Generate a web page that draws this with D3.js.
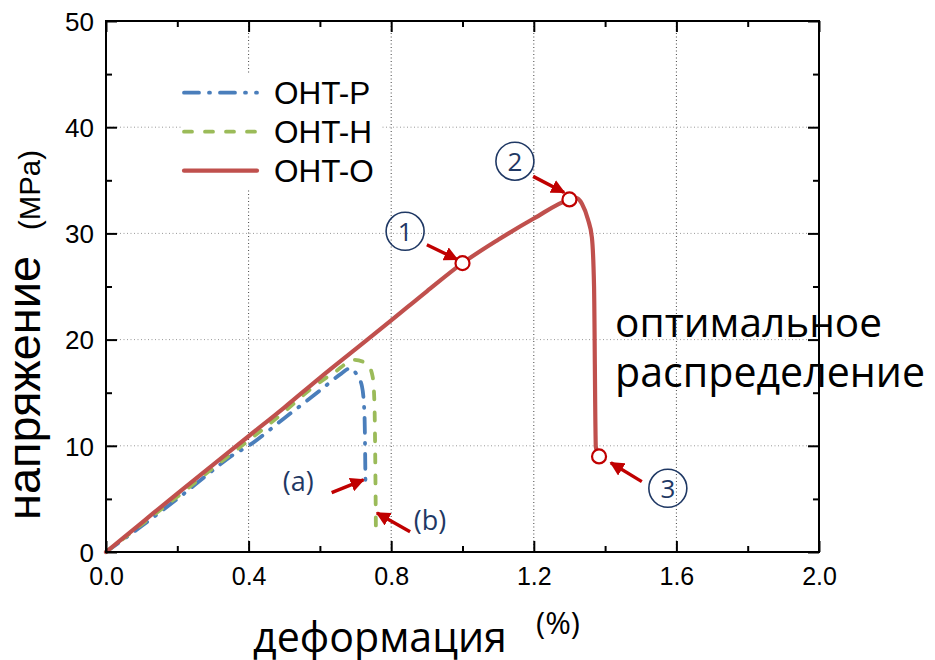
<!DOCTYPE html>
<html><head><meta charset="utf-8">
<script src="https://cdn.jsdelivr.net/npm/d3@7"></script>
<style>body{margin:0;background:#fff}svg{display:block}</style>
</head><body>
<svg id="c" width="935" height="660"></svg>
<script>
// ---------- data ----------
const xTicks = [0, 0.4, 0.8, 1.2, 1.6, 2.0];
const xMinor = [0.2, 0.6, 1.0, 1.4, 1.8];
const yTicks = [0, 10, 20, 30, 40, 50];
const yMinor = [5, 15, 25, 35, 45];
const seriesNames = ["OHT-P", "OHT-H", "OHT-O"];

const strainP = [0, 0.1, 0.2, 0.3, 0.35, 0.4, 0.5, 0.6, 0.66, 0.685, 0.705, 0.718, 0.725, 0.728];
const stressP = [0, 2.45, 5.0, 7.7, 9.0, 10.0, 12.6, 15.2, 16.8, 17.3, 16.6, 15.6, 13.0, 6.0];

const strainH = [0, 0.1, 0.2, 0.3, 0.4, 0.5, 0.58, 0.64, 0.698, 0.735, 0.748, 0.753, 0.757];
const stressH = [0, 2.6, 5.2, 7.9, 10.5, 13.2, 15.5, 16.9, 18.1, 17.6, 16.5, 14.0, 2.5];

const strainO = [0, 0.1, 0.2, 0.3, 0.4, 0.5, 0.6, 0.7, 0.8, 0.9, 1.0, 1.1, 1.2, 1.3, 1.318, 1.335, 1.352, 1.363, 1.369, 1.374, 1.383];
const stressO = [0, 2.75, 5.5, 8.2, 10.9, 13.6, 16.4, 19.1, 21.8, 24.55, 27.2, 29.4, 31.4, 33.2, 33.35, 32.8, 31.3, 29.6, 25.0, 9.9, 9.0];

// marked points on OHT-O
const markStrain = [1.0, 1.3, 1.383];
const markStress = [27.2, 33.2, 9.0];
const markLabels = ["1", "2", "3"];
const markLabelStrain = [0.839, 1.147, 1.576];
const markLabelStress = [30.2, 36.8, 6.0];

// arrows (data coordinates): start -> tip
const arrowX0 = [0.900, 1.198, 1.503, 0.633, 0.853];
const arrowY0 = [28.93, 35.37, 6.63, 5.59, 1.91];
const arrowX1 = [0.985, 1.285, 1.416, 0.722, 0.760];
const arrowY1 = [27.55, 33.86, 8.40, 6.79, 3.68];

const letterLabels = ["(a)", "(b)"];
const letterStrain = [0.539, 0.909];
const letterStress = [6.6, 2.92];

const noteLines = ["оптимальное", "распределение"];
const noteStrain = 1.428;
const noteStress = [20.26, 15.55];

const xTitle = "деформация", xUnit = "(%)";
const yTitle = "напряжение", yUnit = "(MPa)";

// ---------- styling ----------
const colors = ["#4a7ebb", "#9bbb59", "#c0504d"];
const dashes = ["15,10,1,10", "8,13", null];
const navy = "#1f3864", arrowRed = "#c00000";

const svg = d3.select("#c");
const x = d3.scaleLinear().domain([0, 2]).range([106, 819]);
const y = d3.scaleLinear().domain([0, 50]).range([552, 21]);
const [X0, X1] = x.range(), [Y0, Y1] = y.range();

function fit(sel, target) {
  const w = sel.node().getComputedTextLength();
  const fs = parseFloat(sel.attr("font-size"));
  sel.attr("font-size", (fs * target / w).toFixed(2));
  return sel;
}

// grid
const grid = svg.append("g");
grid.selectAll(".gx").data(xTicks.filter(v => v > 0 && v < 2)).join("line")
  .attr("x1", d => x(d)).attr("x2", d => x(d)).attr("y1", Y0).attr("y2", Y1)
  .attr("stroke", "#444").attr("stroke-width", 1).attr("stroke-dasharray", "1,2.5");
grid.selectAll(".gy").data(yTicks.filter(v => v > 0 && v < 50)).join("line")
  .attr("y1", d => y(d)).attr("y2", d => y(d)).attr("x1", X0).attr("x2", X1)
  .attr("stroke", "#999").attr("stroke-width", 1).attr("stroke-dasharray", "1,2.5");

// legend background
svg.append("rect").attr("x", 181).attr("y", 73).attr("width", 200).attr("height", 117).attr("fill", "#fff");

// lines
const series = [
  strainP.map((v, i) => [v, stressP[i]]),
  strainH.map((v, i) => [v, stressH[i]]),
  strainO.map((v, i) => [v, stressO[i]])
];
const line = d3.line().x(d => x(d[0])).y(d => y(d[1])).curve(d3.curveMonotoneX);
series.forEach((s, i) => {
  svg.append("path").attr("d", line(s)).attr("fill", "none")
    .attr("stroke", colors[i]).attr("stroke-width", i === 2 ? 4.2 : 3.8)
    .attr("stroke-linecap", "round").attr("stroke-linejoin", "round")
    .attr("stroke-dasharray", dashes[i]);
});

// axes (ticks inward)
const tickFont = "'Liberation Sans', Arial, sans-serif";
function axisPair(gen, scale, major, minor, transform, labels) {
  const g = svg.append("g").attr("transform", transform);
  g.call(gen(scale).tickValues(major).tickSizeInner(-11).tickSizeOuter(0)
    .tickFormat(labels ? (labels === "x" ? d3.format(".1f") : d3.format("d")) : () => ""));
  const g2 = svg.append("g").attr("transform", transform);
  g2.call(gen(scale).tickValues(minor).tickSizeInner(-6).tickSizeOuter(0).tickFormat(() => ""));
  [g, g2].forEach(a => {
    a.select(".domain").remove();
    a.selectAll(".tick line").attr("stroke", "#000").attr("stroke-width", 2);
  });
  return g;
}
const gb = axisPair(d3.axisBottom, x, xTicks, xMinor, `translate(0,${Y0})`, "x");
gb.selectAll(".tick text").attr("font-family", tickFont).attr("font-size", 25)
  .attr("fill", "#000").attr("y", 0).attr("dy", "1.32em");
const gl = axisPair(d3.axisLeft, y, yTicks, yMinor, `translate(${X0},0)`, "y");
gl.selectAll(".tick text").attr("font-family", tickFont).attr("font-size", 26)
  .attr("fill", "#000").attr("x", -12).attr("dy", "0.36em");
axisPair(d3.axisTop, x, xTicks, xMinor, `translate(0,${Y1})`, null);
axisPair(d3.axisRight, y, yTicks, yMinor, `translate(${X1},0)`, null);

// frame
svg.append("rect").attr("x", X0).attr("y", Y1).attr("width", X1 - X0).attr("height", Y0 - Y1)
  .attr("fill", "none").attr("stroke", "#000").attr("stroke-width", 2);

// arrow heads
svg.append("defs").append("marker").attr("id", "ah").attr("viewBox", "0 0 10 10")
  .attr("refX", 9).attr("refY", 5).attr("markerWidth", 4.2).attr("markerHeight", 4.2)
  .attr("markerUnits", "strokeWidth").attr("orient", "auto")
  .append("path").attr("d", "M0,0 L10,5 L0,10 Z").attr("fill", arrowRed);
arrowX0.forEach((v, i) => {
  svg.append("line").attr("x1", x(v)).attr("y1", y(arrowY0[i]))
    .attr("x2", x(arrowX1[i])).attr("y2", y(arrowY1[i]))
    .attr("stroke", arrowRed).attr("stroke-width", 3.4).attr("marker-end", "url(#ah)");
});

// marker circles
svg.selectAll(".mk").data(markStrain).join("circle")
  .attr("cx", d => x(d)).attr("cy", (d, i) => y(markStress[i])).attr("r", 7)
  .attr("fill", "#fff").attr("stroke", arrowRed).attr("stroke-width", 2.2);

// circled numbers
const calib = "'Open Sans', 'Noto Sans', sans-serif";
markLabels.forEach((t, i) => {
  const cx = x(markLabelStrain[i]), cy = y(markLabelStress[i]);
  svg.append("circle").attr("cx", cx).attr("cy", cy).attr("r", 19)
    .attr("fill", "none").attr("stroke", navy).attr("stroke-width", 1.6);
  svg.append("text").attr("x", cx).attr("y", cy).attr("dy", "0.36em")
    .attr("text-anchor", "middle").attr("font-family", calib).attr("font-size", 26)
    .attr("fill", navy).text(t);
});

// (a) (b)
letterLabels.forEach((t, i) => {
  svg.append("text").attr("x", x(letterStrain[i])).attr("y", y(letterStress[i]))
    .attr("dy", "0.35em").attr("text-anchor", "middle").attr("font-family", calib)
    .attr("font-size", 27).attr("fill", navy).text(t);
});

// annotation text
const noteW = [267, 310];
noteLines.forEach((t, i) => {
  const s = svg.append("text").attr("x", x(noteStrain)).attr("y", y(noteStress[i]))
    .attr("font-family", calib).attr("font-size", 36).attr("fill", "#000").text(t);
  fit(s, noteW[i]);
});

// axis titles
fit(svg.append("text").attr("x", 253).attr("y", 652).attr("font-family", calib)
  .attr("font-size", 40).attr("fill", "#000").text(xTitle), 254);
svg.append("text").attr("x", 536).attr("y", 634).attr("font-family", calib)
  .attr("font-size", 31).attr("fill", "#000").text(xUnit);
fit(svg.append("text").attr("transform", "translate(40,388) rotate(-90)")
  .attr("text-anchor", "middle").attr("font-family", tickFont)
  .attr("font-size", 40).attr("fill", "#000").text(yTitle), 264);
fit(svg.append("text").attr("transform", "translate(40,190) rotate(-90)")
  .attr("text-anchor", "middle").attr("font-family", tickFont)
  .attr("font-size", 22).attr("fill", "#000").text(yUnit), 80);

// legend
const legY = [92.7, 131.7, 170.7];
seriesNames.forEach((n, i) => {
  svg.append("line").attr("x1", 184).attr("x2", 257).attr("y1", legY[i]).attr("y2", legY[i])
    .attr("stroke", colors[i]).attr("stroke-width", i === 2 ? 4.2 : 3.8)
    .attr("stroke-linecap", "round").attr("stroke-dasharray", dashes[i]);
  svg.append("text").attr("x", 274).attr("y", legY[i] + 11)
    .attr("font-family", tickFont).attr("font-size", 31.5).attr("fill", "#000").text(n);
});
</script>
</body></html>
